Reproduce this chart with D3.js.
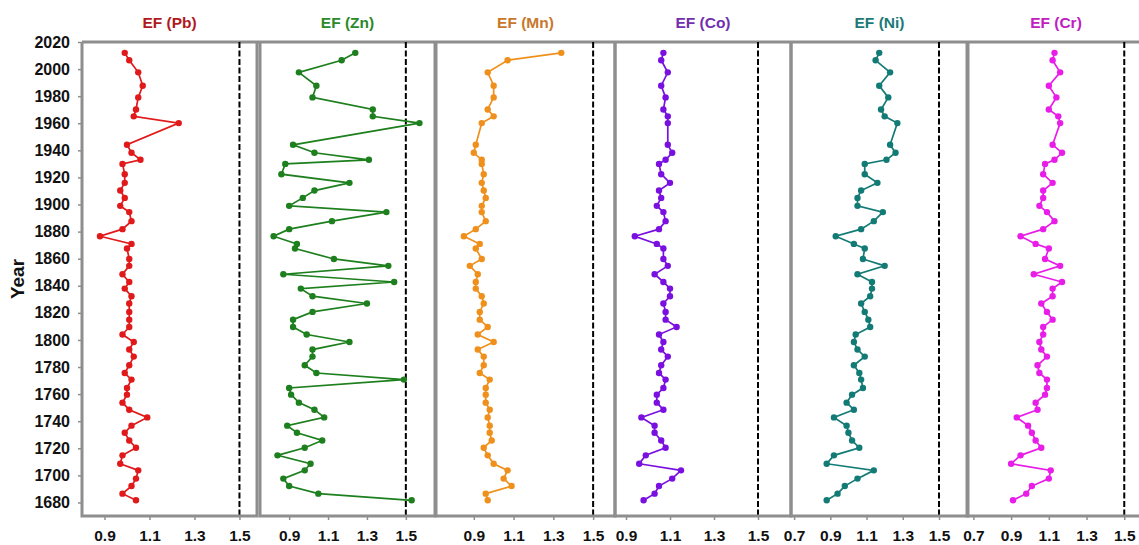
<!DOCTYPE html>
<html>
<head>
<meta charset="utf-8">
<script src="https://cdn.jsdelivr.net/npm/d3@7"></script>
<style>
  body { margin: 0; background: #fff; }
  svg { display: block; font-family: Arial, 'Liberation Sans', sans-serif; }
</style>
</head>
<body>
<svg class="chart" width="1139" height="545"></svg>
<script>
// sample years (shared by every element)
const years = [2012, 2006.5, 1997.6, 1987.7, 1979.1, 1970.2, 1965.1, 1960.1, 1944.1, 1938.2,
  1933, 1930, 1922.4, 1916, 1910.3, 1904.9, 1899, 1894.4, 1887.7, 1881.8,
  1876.6, 1870.9, 1867.5, 1859.8, 1854.7, 1848.5, 1842.8, 1837.9, 1832.3, 1826.9,
  1820.7, 1815, 1809.6, 1804, 1798.5, 1792.9, 1787.7, 1781.3, 1775.6, 1770.7,
  1764.5, 1759.6, 1753.7, 1748.5, 1742.8, 1736.7, 1731.5, 1725.8, 1720.4, 1714.8,
  1708.6, 1703.7, 1697.6, 1692.1, 1686.5, 1681.6]

// enrichment factors, one array per element
const pb = [0.99, 1.01, 1.05, 1.07, 1.05, 1.04, 1.03, 1.23, 1.00, 1.02,
  1.06, 0.98, 0.99, 0.99, 0.97, 0.99, 0.97, 1.01, 1.02, 0.98,
  0.88, 1.02, 1.00, 1.01, 1.01, 0.98, 1.01, 0.99, 1.02, 1.01,
  1.01, 1.01, 1.01, 0.98, 1.03, 1.01, 1.03, 1.01, 0.99, 1.02,
  1.00, 1.00, 0.98, 1.01, 1.09, 1.02, 0.99, 1.01, 1.04, 0.98,
  0.97, 1.05, 1.04, 1.02, 0.98, 1.04]
const zn = [1.24, 1.17, 0.95, 1.04, 1.02, 1.33, 1.33, 1.57, 0.92, 1.03,
  1.31, 0.88, 0.86, 1.21, 1.03, 0.97, 0.90, 1.40, 1.12, 0.90,
  0.82, 0.94, 0.93, 1.13, 1.41, 0.87, 1.44, 0.96, 1.02, 1.30,
  1.02, 0.92, 0.92, 0.99, 1.21, 1.02, 1.02, 0.98, 1.04, 1.49,
  0.90, 0.91, 0.95, 1.03, 1.08, 0.89, 0.94, 1.07, 0.98, 0.84,
  1.01, 0.98, 0.87, 0.90, 1.05, 1.53]
const mn = [1.34, 1.07, 0.97, 1.00, 1.00, 0.97, 1.00, 0.94, 0.91, 0.90,
  0.94, 0.94, 0.95, 0.94, 0.95, 0.96, 0.94, 0.94, 0.96, 0.91,
  0.85, 0.93, 0.91, 0.94, 0.88, 0.92, 0.91, 0.91, 0.94, 0.95,
  0.93, 0.93, 0.97, 0.92, 1.00, 0.92, 0.95, 0.95, 0.93, 0.98,
  0.96, 0.96, 0.96, 0.98, 0.97, 0.98, 0.98, 0.99, 0.95, 0.97,
  1.00, 1.07, 1.05, 1.09, 0.96, 0.97]
const co = [1.07, 1.06, 1.09, 1.06, 1.08, 1.07, 1.09, 1.09, 1.09, 1.11,
  1.08, 1.05, 1.06, 1.10, 1.05, 1.06, 1.04, 1.07, 1.08, 1.05,
  0.94, 1.04, 1.07, 1.07, 1.09, 1.03, 1.07, 1.10, 1.10, 1.07,
  1.08, 1.08, 1.13, 1.05, 1.07, 1.06, 1.09, 1.06, 1.05, 1.08,
  1.07, 1.04, 1.04, 1.07, 0.97, 1.03, 1.03, 1.06, 1.08, 0.99,
  0.96, 1.15, 1.11, 1.05, 1.03, 0.98]
const ni = [1.17, 1.15, 1.23, 1.17, 1.22, 1.18, 1.20, 1.27, 1.23, 1.26,
  1.21, 1.09, 1.09, 1.16, 1.07, 1.05, 1.05, 1.19, 1.14, 1.07,
  0.93, 1.03, 1.09, 1.08, 1.20, 1.05, 1.13, 1.13, 1.12, 1.07,
  1.09, 1.11, 1.12, 1.04, 1.03, 1.05, 1.09, 1.03, 1.06, 1.07,
  1.08, 1.02, 0.99, 1.03, 0.92, 0.99, 1.00, 1.02, 1.06, 0.92,
  0.88, 1.14, 1.05, 0.98, 0.94, 0.88]
const cr = [1.13, 1.12, 1.16, 1.10, 1.14, 1.10, 1.15, 1.16, 1.12, 1.17,
  1.13, 1.08, 1.07, 1.12, 1.07, 1.07, 1.05, 1.09, 1.13, 1.07,
  0.95, 1.03, 1.10, 1.08, 1.16, 1.02, 1.17, 1.12, 1.12, 1.06,
  1.09, 1.12, 1.07, 1.07, 1.05, 1.06, 1.09, 1.04, 1.05, 1.09,
  1.09, 1.08, 1.03, 1.04, 0.93, 0.99, 1.01, 1.03, 1.06, 0.95,
  0.90, 1.11, 1.10, 1.01, 0.98, 0.91]

const titles = ['EF (Pb)', 'EF (Zn)', 'EF (Mn)', 'EF (Co)', 'EF (Ni)', 'EF (Cr)']
const yearTicks = [1680, 1700, 1720, 1740, 1760, 1780, 1800, 1820, 1840, 1860, 1880, 1900, 1920, 1940, 1960, 1980, 2000, 2020]
const xTicksShort = [0.9, 1.1, 1.3, 1.5]
const xTicksLong = [0.7, 0.9, 1.1, 1.3, 1.5]
const threshold = 1.5

// panel layout: pixel extent and x domain of each panel
const panels = [
  { values: pb, x0: 82, x1: 257, domain: [0.8, 1.578], ticks: xTicksShort, line: '#e0191b', title: '#b0191e' },
  { values: zn, x0: 260, x1: 435, domain: [0.75, 1.65], ticks: xTicksShort, line: '#1d7f1d', title: '#2a8a2a' },
  { values: mn, x0: 436, x1: 615, domain: [0.71, 1.61], ticks: xTicksShort, line: '#f0901c', title: '#c8782c' },
  { values: co, x0: 615, x1: 791, domain: [0.85, 1.65], ticks: xTicksShort, line: '#7a10e0', title: '#7030b0' },
  { values: ni, x0: 791, x1: 968, domain: [0.683, 1.66], ticks: xTicksLong, line: '#137b76', title: '#1c7a78' },
  { values: cr, x0: 967, x1: 1145, domain: [0.666, 1.61], ticks: xTicksLong, line: '#e81ee8', title: '#c020c0' }
]

const plotTop = 42
const plotBottom = 516
const frameColor = '#8e8e8e'

const svg = d3.select('.chart')

// shared year scale
const y = d3.scaleLinear().domain([1670, 2020]).range([plotBottom, plotTop])

// year axis on the left of the first panel
const yAxis = svg.append('g')
    .attr('transform', 'translate(' + panels[0].x0 + ',0)')
    .call(d3.axisLeft(y).tickValues(yearTicks).tickFormat(d3.format('d')).tickSize(4).tickPadding(8))
yAxis.select('.domain').remove()
yAxis.selectAll('line').attr('stroke', frameColor).attr('stroke-width', 1.5)
yAxis.selectAll('text')
    .attr('fill', '#111')
    .style('font-size', '16px')
    .style('font-weight', 'bold')
    .style('font-family', 'Arial, Liberation Sans, sans-serif')

svg.append('text')
    .attr('transform', 'translate(24,' + (plotTop + plotBottom) / 2 + ') rotate(-90)')
    .attr('text-anchor', 'middle')
    .attr('fill', '#111')
    .style('font-size', '19px')
    .style('font-weight', 'bold')
    .text('Year')

// top border runs across all panels
svg.append('line')
    .attr('x1', panels[0].x0).attr('x2', 1139)
    .attr('y1', plotTop).attr('y2', plotTop)
    .attr('stroke', frameColor).attr('stroke-width', 3)

panels.forEach((p, i) => {
  const x = d3.scaleLinear().domain(p.domain).range([p.x0, p.x1])
  const g = svg.append('g')

  // x axis with small ticks under the frame
  const xAxis = g.append('g')
      .attr('transform', 'translate(0,' + plotBottom + ')')
      .call(d3.axisBottom(x).tickValues(p.ticks).tickFormat(d3.format('.1f')).tickSize(4).tickPadding(10))
  xAxis.select('.domain').remove()
  xAxis.selectAll('line').attr('stroke', frameColor).attr('stroke-width', 1.5)
  xAxis.selectAll('text')
      .attr('fill', '#111')
      .style('font-size', '15.5px')
      .style('font-weight', 'bold')
      .style('font-family', 'Arial, Liberation Sans, sans-serif')

  // threshold line
  g.append('line')
      .attr('x1', x(threshold)).attr('x2', x(threshold))
      .attr('y1', plotTop).attr('y2', plotBottom)
      .attr('stroke', '#000')
      .attr('stroke-width', 2)
      .attr('stroke-dasharray', '6,2.5')

  // data line and points
  const pts = years.map((yr, j) => [yr, p.values[j]])
  const line = d3.line().x(d => x(d[1])).y(d => y(d[0]))
  g.append('path')
      .attr('d', line(pts))
      .attr('fill', 'none')
      .attr('stroke', p.line)
      .attr('stroke-width', 1.7)
  g.selectAll('circle').data(pts)
    .enter().append('circle')
      .attr('cx', d => x(d[1]))
      .attr('cy', d => y(d[0]))
      .attr('r', 3.2)
      .attr('fill', p.line)

  // frame: left, right and bottom edges
  g.append('path')
      .attr('d', 'M' + p.x0 + ',' + plotTop + 'V' + plotBottom + 'H' + p.x1 + 'V' + plotTop)
      .attr('fill', 'none')
      .attr('stroke', frameColor)
      .attr('stroke-width', 3)

  // panel title
  g.append('text')
      .attr('x', (p.x0 + p.x1) / 2)
      .attr('y', 28)
      .attr('text-anchor', 'middle')
      .attr('fill', p.title)
      .style('font-size', '15.5px')
      .style('font-weight', 'bold')
      .text(titles[i])
})
</script>
</body>
</html>
